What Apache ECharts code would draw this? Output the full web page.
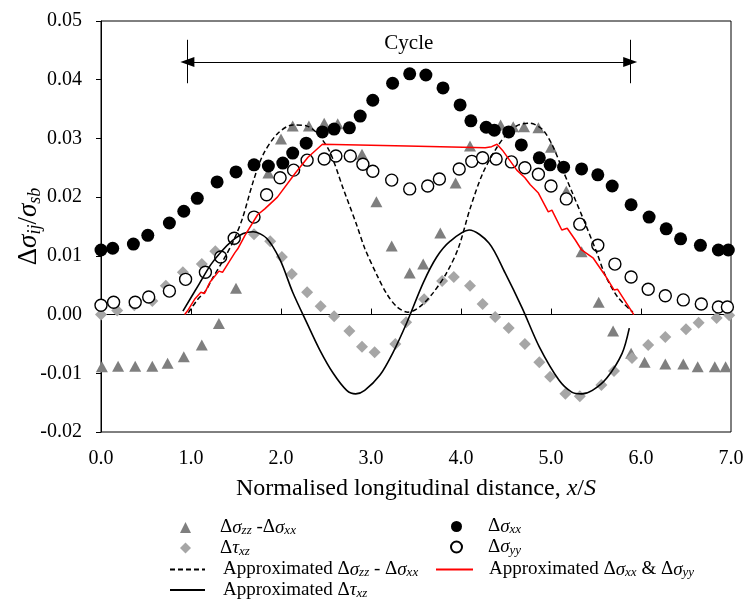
<!DOCTYPE html>
<html><head><meta charset="utf-8">
<script src="https://cdn.jsdelivr.net/npm/echarts@6/dist/echarts.min.js"></script>
<style>html,body{margin:0;padding:0;background:#fff}#c{width:744px;height:604px}</style>
</head><body><div id="c"></div>
<script>
const FONT = 'Liberation Serif';

// Δσzz - Δσxx (triangles)
const zzData = [[0.01,-0.0089],[0.19,-0.0088],[0.38,-0.0088],[0.57,-0.0088],[0.74,-0.0083],[0.92,-0.0072],[1.12,-0.0052],[1.31,-0.0015],[1.50,0.0045],[1.86,0.0241],[2.00,0.0299],[2.13,0.0321],[2.31,0.0321],[2.48,0.0326],[2.63,0.0325],[2.90,0.0273],[3.06,0.0192],[3.23,0.0117],[3.43,0.0071],[3.58,0.0086],[3.77,0.0139],[3.94,0.0224],[4.10,0.0287],[4.44,0.0323],[4.58,0.0320],[4.70,0.0320],[4.86,0.0318],[5.00,0.0285],[5.17,0.0210],[5.34,0.0107],[5.53,0.0021],[5.69,-0.0028],[5.89,-0.0066],[6.04,-0.0081],[6.27,-0.0084],[6.47,-0.0084],[6.63,-0.0089],[6.82,-0.0089],[6.94,-0.0089]];
// Δτxz (diamonds)
const tauData = [[0,0.0000],[0.18,0.0007],[0.37,0.0016],[0.57,0.0023],[0.72,0.0049],[0.91,0.0072],[1.12,0.0086],[1.27,0.0108],[1.48,0.0127],[1.70,0.0137],[1.88,0.0125],[2.01,0.0098],[2.12,0.0069],[2.29,0.0038],[2.44,0.0014],[2.59,-0.0003],[2.76,-0.0028],[2.90,-0.0055],[3.04,-0.0064],[3.27,-0.0050],[3.39,-0.0013],[3.59,0.0026],[3.79,0.0057],[3.92,0.0064],[4.10,0.0049],[4.24,0.0018],[4.38,-0.0004],[4.53,-0.0023],[4.71,-0.0050],[4.87,-0.0081],[4.99,-0.0106],[5.16,-0.0135],[5.32,-0.0139],[5.56,-0.0120],[5.70,-0.0096],[5.90,-0.0074],[6.08,-0.0052],[6.27,-0.0038],[6.50,-0.0025],[6.64,-0.0014],[6.84,-0.0006],[6.98,-0.0001]];
// Δσxx (filled circles)
const xxData = [[0.00,0.0110],[0.13,0.0113],[0.36,0.0120],[0.52,0.0135],[0.76,0.0156],[0.92,0.0176],[1.07,0.0198],[1.29,0.0226],[1.50,0.0243],[1.70,0.0255],[1.86,0.0253],[2.02,0.0258],[2.13,0.0275],[2.28,0.0292],[2.46,0.0311],[2.59,0.0316],[2.76,0.0318],[2.88,0.0338],[3.02,0.0365],[3.24,0.0394],[3.43,0.0410],[3.61,0.0408],[3.80,0.0386],[3.99,0.0357],[4.11,0.0330],[4.28,0.0319],[4.37,0.0314],[4.53,0.0311],[4.67,0.0289],[4.87,0.0267],[4.99,0.0255],[5.14,0.0251],[5.34,0.0248],[5.52,0.0238],[5.68,0.0219],[5.89,0.0187],[6.09,0.0166],[6.28,0.0146],[6.44,0.0129],[6.66,0.0118],[6.86,0.0110],[6.97,0.0110]];
// Δσyy (open circles)
const yyData = [[0,0.0016],[0.14,0.0021],[0.38,0.0021],[0.53,0.0030],[0.76,0.0040],[0.94,0.0060],[1.16,0.0072],[1.33,0.0098],[1.48,0.0130],[1.70,0.0166],[1.84,0.0204],[1.99,0.0233],[2.14,0.0246],[2.29,0.0263],[2.48,0.0265],[2.61,0.0270],[2.77,0.0270],[2.91,0.0256],[3.02,0.0244],[3.23,0.0229],[3.43,0.0214],[3.63,0.0219],[3.76,0.0231],[3.98,0.0248],[4.12,0.0261],[4.24,0.0267],[4.39,0.0265],[4.56,0.0260],[4.71,0.0250],[4.86,0.0239],[5.00,0.0219],[5.17,0.0197],[5.32,0.0154],[5.52,0.0118],[5.71,0.0086],[5.89,0.0064],[6.08,0.0043],[6.27,0.0032],[6.47,0.0025],[6.67,0.0018],[6.86,0.0013],[6.96,0.0013]];
// Approximated Δσzz - Δσxx (dashed)
const apZzData = [[0.97,0.0003],[1.07,0.0025],[1.16,0.0040],[1.24,0.0062],[1.36,0.0093],[1.47,0.0125],[1.57,0.0163],[1.69,0.0226],[1.80,0.0272],[1.96,0.0308],[2.13,0.0323],[2.29,0.0321],[2.40,0.0309],[2.54,0.0278],[2.69,0.0215],[2.84,0.0153],[2.93,0.0113],[3.07,0.0066],[3.18,0.0034],[3.29,0.0013],[3.41,0.0004],[3.54,0.0013],[3.69,0.0037],[3.84,0.0071],[3.97,0.0113],[4.10,0.0180],[4.24,0.0240],[4.40,0.0285],[4.53,0.0311],[4.64,0.0323],[4.76,0.0326],[4.90,0.0316],[5.01,0.0290],[5.12,0.0250],[5.23,0.0210],[5.38,0.0155],[5.51,0.0105],[5.60,0.0068],[5.74,0.0030],[5.91,0.0004]];
// Approximated Δτxz (solid)
const apTauData = [[0.91,0.0006],[1.09,0.0052],[1.22,0.0085],[1.34,0.0108],[1.46,0.0126],[1.58,0.0138],[1.69,0.0141],[1.84,0.0130],[1.99,0.0093],[2.13,0.0038],[2.29,-0.0015],[2.43,-0.0060],[2.58,-0.0100],[2.73,-0.0129],[2.83,-0.0135],[2.93,-0.0129],[3.10,-0.0103],[3.24,-0.0066],[3.40,-0.0013],[3.58,0.0054],[3.73,0.0098],[3.88,0.0125],[4.09,0.0144],[4.31,0.0122],[4.49,0.0071],[4.68,0.0011],[4.87,-0.0055],[5.09,-0.0112],[5.23,-0.0132],[5.34,-0.0135],[5.46,-0.0129],[5.62,-0.0108],[5.79,-0.0066],[5.87,-0.0023]];
// Approximated Δσxx & Δσyy (red)
const apXxData = [[0.93,0.0000],[0.96,0.0006],[1.04,0.0026],[1.11,0.0038],[1.15,0.0036],[1.21,0.0055],[1.31,0.0074],[1.35,0.0072],[1.49,0.0106],[1.52,0.0112],[1.60,0.0135],[1.74,0.0170],[1.82,0.0180],[1.96,0.0200],[2.16,0.0241],[2.30,0.0268],[2.46,0.0290],[3.40,0.0287],[4.27,0.0284],[4.34,0.0286],[4.40,0.0290],[4.46,0.0280],[4.54,0.0263],[4.62,0.0246],[4.71,0.0233],[4.77,0.0221],[4.86,0.0207],[4.97,0.0175],[5.01,0.0178],[5.12,0.0144],[5.18,0.0147],[5.27,0.0127],[5.34,0.0110],[5.47,0.0096],[5.60,0.0067],[5.70,0.0042],[5.74,0.0043],[5.92,0.0000]];
// Cycle annotation (data coordinates)
const cycleX = [0.96, 5.88];
const cycleY = 0.043;
const cycleBar = [0.0394, 0.0468];

const names = {
  zz: 'Δσzz -Δσxx', tau: 'Δτxz', apZz: 'Approximated Δσzz - Δσxx', apTau: 'Approximated Δτxz',
  xx: 'Δσxx', yy: 'Δσyy', apXx: 'Approximated Δσxx & Δσyy'
};
const richNames = {};
richNames[names.zz] = '{g1|}{n|Δ}{i|σ}{s|zz}{n| -Δ}{i|σ}{s|xx}';
richNames[names.tau] = '{g1|}{n|Δ}{i|τ}{s|xz}';
richNames[names.apZz] = '{g2|}{n|Approximated Δ}{i|σ}{s|zz}{n| - Δ}{i|σ}{s|xx}';
richNames[names.apTau] = '{g2|}{n|Approximated Δ}{i|τ}{s|xz}';
richNames[names.xx] = '{g3|}{n|Δ}{i|σ}{s|xx}';
richNames[names.yy] = '{g3|}{n|Δ}{i|σ}{s|yy}';
richNames[names.apXx] = '{g4|}{n|Approximated Δ}{i|σ}{s|xx}{n| & Δ}{i|σ}{s|yy}';

const rich = {
  g1: {width: 24}, g2: {width: 13}, g3: {width: 21}, g4: {width: 11},
  n: {fontFamily: FONT, fontSize: 19, color: '#000', lineHeight: 20},
  i: {fontFamily: FONT, fontSize: 19, fontStyle: 'italic', color: '#000', lineHeight: 20},
  s: {fontFamily: FONT, fontSize: 13, fontStyle: 'italic', color: '#000', lineHeight: 11, verticalAlign: 'bottom'}
};
const xNameRich = {
  n: {fontFamily: FONT, fontSize: 24, color: '#000', lineHeight: 26},
  i: {fontFamily: FONT, fontSize: 24, fontStyle: 'italic', color: '#000', lineHeight: 26}
};
const yNameRich = {
  n: {fontFamily: FONT, fontSize: 27, color: '#000', lineHeight: 30},
  i: {fontFamily: FONT, fontSize: 27, fontStyle: 'italic', color: '#000', lineHeight: 30},
  s: {fontFamily: FONT, fontSize: 18, fontStyle: 'italic', color: '#000', lineHeight: 15, verticalAlign: 'bottom'}
};

function mkLegend(left, top, w, data, isLine) {
  const o = {orient: 'vertical', left: left, top: top, padding: 0, itemWidth: w, itemHeight: isLine ? 12 : 11,
    itemGap: 1, selectedMode: false, symbolKeepAspect: true, data: data,
    formatter: n => richNames[n], textStyle: {rich: rich, fontFamily: FONT, fontSize: 19}};
  if (isLine) o.itemStyle = {opacity: 0};
  return o;
}

const chart = echarts.init(document.getElementById('c'));
chart.setOption({
  animation: false,
  grid: {left: 101, right: 13, top: 21, bottom: 172, show: true, borderColor: '#000', borderWidth: 1,
         containLabel: false, outerBoundsMode: 'none'},
  legend: [
    mkLegend(180, 518, 11, [names.zz, names.tau], false),
    mkLegend(169, 560, 35, [names.apZz, names.apTau], true),
    mkLegend(450, 517, 11, [names.xx, names.yy], false),
    mkLegend(435, 560, 37, [names.apXx], true)
  ],
  xAxis: [
    {type: 'value', min: 0, max: 7, interval: 1, position: 'bottom',
     axisLine: {show: false, onZero: false}, axisTick: {show: false}, splitLine: {show: false},
     axisLabel: {formatter: v => v.toFixed(1), margin: 17, fontFamily: FONT, fontSize: 20, color: '#000'},
     name: '{n|Normalised longitudinal distance, }{i|x}{n|/}{i|S}', nameLocation: 'middle', nameGap: 44,
     nameMoveOverlap: false, nameTextStyle: {rich: xNameRich}},
    {type: 'value', min: 0, max: 7, interval: 1, position: 'bottom',
     axisLine: {show: true, onZero: true, lineStyle: {color: '#000', width: 1}},
     axisTick: {show: true, inside: true, length: 6, lineStyle: {color: '#000', width: 1}},
     axisLabel: {show: false}, splitLine: {show: false}}
  ],
  yAxis: {type: 'value', min: -0.02, max: 0.05, interval: 0.01,
    axisLine: {show: true, onZero: false, lineStyle: {color: '#000', width: 1}},
    axisTick: {show: true, inside: false, length: 5, lineStyle: {color: '#000'}},
    splitLine: {show: false},
    axisLabel: {formatter: v => v.toFixed(2), margin: 19, fontFamily: FONT, fontSize: 20, color: '#000'},
    name: '{n|Δ}{i|σ}{s|ij}{n|/}{i|σ}{s|sb}', nameLocation: 'middle', nameGap: 57, nameRotate: 90,
    nameMoveOverlap: false, nameTextStyle: {rich: yNameRich}},
  series: [
    {name: names.zz, type: 'scatter', data: zzData, symbol: 'triangle', symbolSize: [12, 11],
     itemStyle: {color: '#7f7f7f', opacity: 1}, z: 2},
    {name: names.tau, type: 'scatter', data: tauData, symbol: 'diamond', symbolSize: 12,
     itemStyle: {color: '#a6a6a6', opacity: 1}, z: 2},
    {name: names.xx, type: 'scatter', data: xxData, symbol: 'circle', symbolSize: 13,
     itemStyle: {color: '#000', opacity: 1}, z: 3},
    {name: names.yy, type: 'scatter', data: yyData, symbol: 'circle', symbolSize: 12,
     itemStyle: {color: '#fff', borderColor: '#000', borderWidth: 1.4, opacity: 1}, z: 3},
    {name: names.apZz, type: 'line', data: apZzData, symbol: 'none', smooth: 0.3,
     lineStyle: {color: '#000', width: 1.5, type: [5, 3]}, itemStyle: {color: '#000'}, z: 4},
    {name: names.apTau, type: 'line', data: apTauData, symbol: 'none', smooth: 0.3,
     lineStyle: {color: '#000', width: 1.6}, itemStyle: {color: '#000'}, z: 4},
    {name: names.apXx, type: 'line', data: apXxData, symbol: 'none',
     lineStyle: {color: '#ff0000', width: 1.5}, itemStyle: {color: '#ff0000'}, z: 4,
     markLine: {silent: true, symbol: ['triangle', 'triangle'], symbolSize: [10, 14],
       lineStyle: {color: '#000', width: 1, type: 'solid'},
       label: {show: false},
       data: [
         [{coord: [cycleX[0], cycleY], label: {show: true, formatter: 'Cycle', position: 'insideMiddleTop', distance: 8,
            fontFamily: FONT, fontSize: 21, color: '#000'}}, {coord: [cycleX[1], cycleY]}],
         [{coord: [cycleX[0], cycleBar[0]], symbol: 'none'}, {coord: [cycleX[0], cycleBar[1]], symbol: 'none'}],
         [{coord: [cycleX[1], cycleBar[0]], symbol: 'none'}, {coord: [cycleX[1], cycleBar[1]], symbol: 'none'}]
       ]}}
  ]
});
</script></body></html>
